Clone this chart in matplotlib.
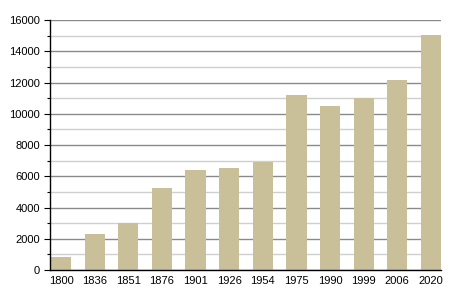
import matplotlib
matplotlib.use("Agg")
import matplotlib.pyplot as plt
from matplotlib.ticker import MultipleLocator

years = ["1800", "1836", "1851", "1876", "1901", "1926", "1954", "1975", "1990", "1999", "2006", "2020"]
population = [850, 2300, 3030, 5270, 6400, 6530, 6930, 11200, 10500, 11010, 12160, 15060]

plt.rcParams['font.family'] = ['Liberation Sans', 'DejaVu Sans']
fig = plt.figure(figsize=(4.5, 3), dpi=100)
ax = fig.add_axes([0.111, 0.1, 0.869, 0.833])

x = list(range(len(years)))
ax.bar(x, population, width=0.6, color="#c9c09a", zorder=3)

ax.set_ylim(0, 16000)
ax.set_xlim(-0.33, 11.3)
ax.yaxis.set_major_locator(MultipleLocator(2000))
ax.yaxis.set_minor_locator(MultipleLocator(1000))
ax.grid(axis='y', which='major', color='#8a8a8a', linewidth=1.0, zorder=1)
ax.grid(axis='y', which='minor', color='#cfcfcf', linewidth=1.0, zorder=1)
ax.set_xticks(x)
ax.set_xticklabels(years)
ax.tick_params(axis='x', length=0, labelsize=8, pad=4)
ax.tick_params(axis='y', which='major', length=4, width=0.8, labelsize=8, pad=3)
ax.tick_params(axis='y', which='minor', length=2, width=0.8)
for s in ['top', 'right']:
    ax.spines[s].set_visible(False)
ax.spines['left'].set_linewidth(1.0)
ax.spines['bottom'].set_linewidth(1.0)
ax.spines['left'].set_zorder(4)
ax.spines['bottom'].set_zorder(4)

fig.savefig("out.png", dpi=100)
